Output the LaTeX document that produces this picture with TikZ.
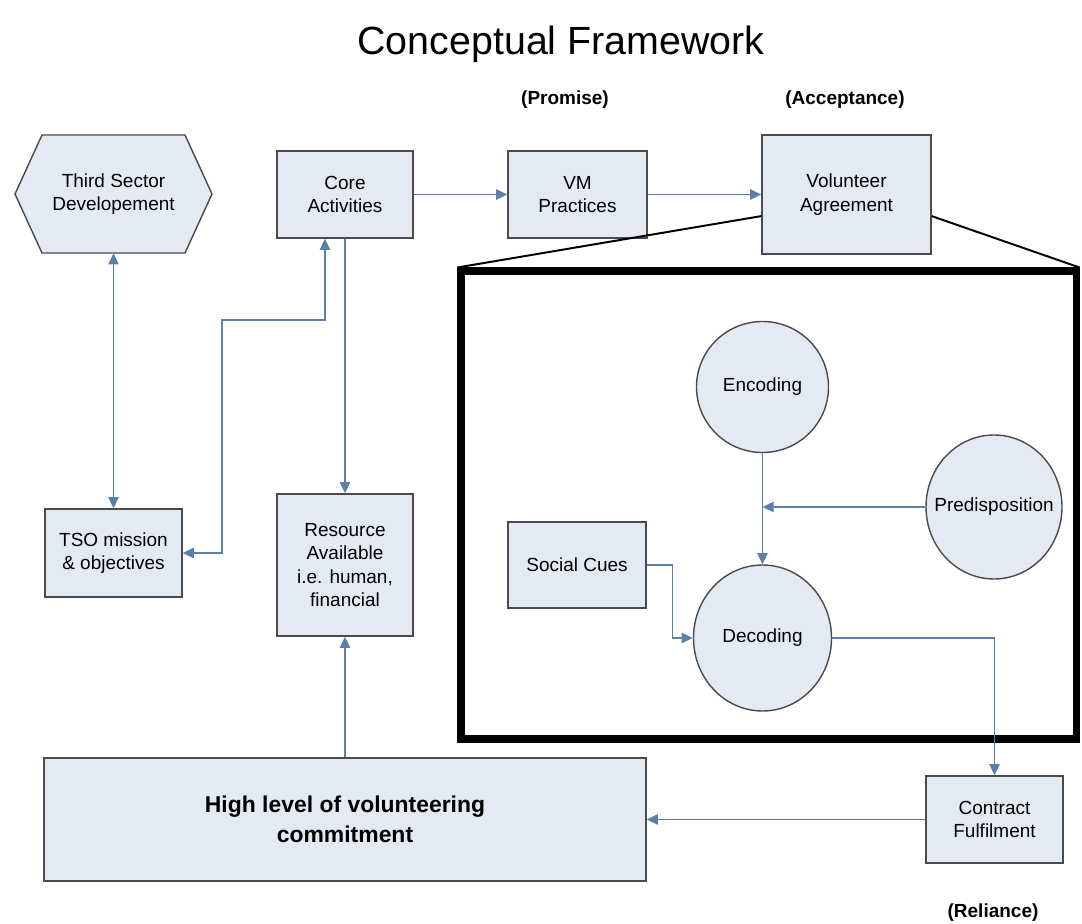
\documentclass[tikz,border=0pt]{standalone}
\usepackage{fontspec}
\setmainfont{Liberation Sans}
\usetikzlibrary{positioning, arrows.meta, shapes.geometric}
\definecolor{caja}{HTML}{E4EAF4}
\definecolor{borde}{HTML}{4A4A4A}
\definecolor{enlace}{HTML}{5A7FAA}

\begin{document}
\begin{tikzpicture}[x=0.025cm, y=-0.025cm, font=\fontsize{13.5}{16.5}\selectfont,
		>={Triangle[length=2.8mm, width=2.6mm]},
		cuadro/.style={draw=borde, fill=caja, line width=1pt, align=center, inner sep=2pt},
		elipse/.style={draw=borde, fill=caja, line width=1pt, ellipse, inner sep=0pt},
		flecha/.style={draw=enlace, line width=1pt},
		rotulo/.style={font=\fontsize{13.5}{16}\selectfont\bfseries}]
	\useasboundingbox (0,0) rectangle (1082,924);

	\node[font=\fontsize{28}{32}\selectfont] (titulo) at (561,44) {Conceptual Framework};
	\foreach \n/\x/\y/\t in {promesa/565/100/{(Promise)}, aceptacion/845/100/{(Acceptance)},
	                         confianza/993/913/{(Reliance)}}
		\node[rotulo] (\n) at (\x,\y) {\t};

	\draw[draw=borde, fill=caja, line width=1pt] (15,194) -- (42,135) -- (185,135) -- (212,194)
		-- (185,253) -- (42,253) -- cycle;
	\node[align=center, minimum width=197*0.025cm, minimum height=118*0.025cm] (tercer) at (113.5,194)
		{Third Sector\\Developement};

	\foreach \n/\x/\y/\w/\h/\t in {nucleo/345/194.5/136/87/{Core\\Activities},
	                               practicas/577.5/194.5/139/87/{VM\\Practices},
	                               acuerdo/846.5/194.5/169/119/{Volunteer\\Agreement},
	                               mision/113.5/553/137/88/{TSO mission\\\& objectives},
	                               recursos/345/565/136/142/{Resource\\Available\\i.e. human,\\financial},
	                               social/577/565/138/86/{Social Cues},
	                               contrato/994.5/819.5/137/87/{Contract\\Fulfilment}} {
		\node[cuadro, minimum width=\w*0.025cm, minimum height=\h*0.025cm] (\n) at (\x,\y) {\t};
	}
	\node[cuadro, minimum width=602*0.025cm, minimum height=123*0.025cm,
		font=\fontsize{16.3}{21}\selectfont\bfseries] (alto) at (345,819.5) {High level of volunteering\\commitment};

	\foreach \n/\x/\y/\w/\h/\t in {codif/762.5/387/132/131/Encoding, decodif/762.5/638/138/146/Decoding,
	                               predis/994/507/136/144/Predisposition} {
		\node[elipse, minimum width=\w*0.025cm, minimum height=\h*0.025cm, label=center:\t] (\n) at (\x,\y) {};
	}

	\node[draw=black, line width=5pt, minimum width=615*0.025cm, minimum height=468*0.025cm] (marco) at (768.5,505) {};
	\draw[line width=1.4pt] ([yshift=-0.54cm]acuerdo.west) -- (marco.north west);
	\draw[line width=1.4pt] ([yshift=-0.54cm]acuerdo.east) -- (marco.north east);

	\coordinate (codo) at (222,320);
	\draw[flecha, <->] (tercer) -- (mision);
	\draw[flecha, <->] (mision.east) -| (codo) -| ([xshift=-0.5cm]nucleo.south);
	\draw[flecha, ->] (nucleo) -- (recursos);
	\draw[flecha, ->] (nucleo) -- (practicas);
	\draw[flecha, ->] (practicas) -- (acuerdo);
	\draw[flecha, ->] (alto) -- (recursos);
	\draw[flecha, ->] (contrato) -- (alto);
	\draw[flecha, ->] (codif) -- (decodif);
	\draw[flecha, ->] (predis) -- (predis -| codif);
	\draw[flecha, ->] (social.east) -- ++(26,0) |- (decodif.west);
	\draw[flecha, ->] (decodif.east) -| (contrato.north);
\end{tikzpicture}
\end{document}
